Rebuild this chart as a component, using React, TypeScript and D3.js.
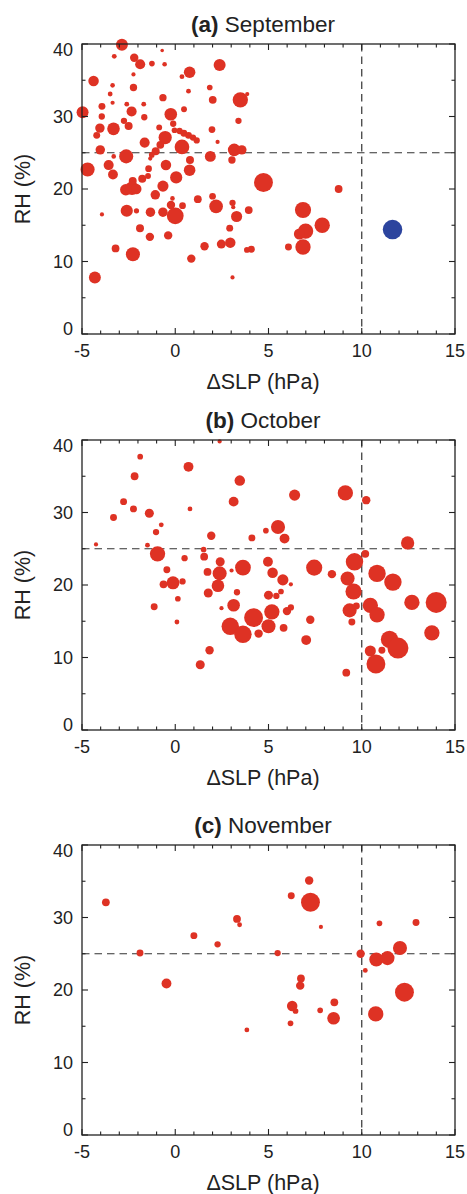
import React from 'react';
import * as d3 from 'd3';

// axis ticks
const xTicks = [-5, 0, 5, 10, 15];
const yTicks = [0, 10, 20, 30, 40];
const panelLetters = ['(a)', '(b)', '(c)'];
const panelMonths = ['September', 'October', 'November'];

// (a) September : dSLP (hPa), RH (%), bubble magnitude
const sepSLP = [
  -2.86, -3.27, -2.2, -1.88, -1.25, -0.7, -0.57, 0.77, 0.36, 2.38,
  -4.38, -3.36, -2.24, -2.24, -3.49, -3.36, -2.6, -1.69, -0.66, 0.71,
  1.85, 2.01, 3.49, 3.86, -3.93, -4.97, -2.34, -1.66, -3.94, -0.24,
  0.47, 3.39, -2.75, -2.5, -4.04, -3.31, -4.21, -0.86, -0.11, -0.54,
  -0.04, 0.23, 0.46, 0.71, 0.95, 1.15, 1.97, 2.27, -1.64, 0.36,
  -0.8, -1.05, -1.26, -4.02, -2.63, -3.3, -1.34, 0.79, 1.88, 3.16,
  3.57, 3.04, -4.7, -3.57, -3.34, -1.43, -0.5, 0.77, 0.05, -1.77,
  -1.46, -2.28, -2.65, -2.32, -2.09, -0.66, -1.07, -0.15, 1.21, 2.0,
  -2.6, -2.08, -1.33, -0.66, -0.23, 0.0, 0.39, 2.19, 3.07, 3.11,
  3.29, 3.94, -3.93, -1.89, -1.36, -0.38, 2.92, 1.57, 2.47, 2.95,
  -3.2, -2.27, 0.86, 3.84, 4.08, -4.31, 3.07, 4.73, 8.76, 6.85,
  6.99, 6.66, 7.88, 6.85, 6.07,
];
const sepRH = [
  39.9, 38.3, 38.1, 37.2, 37.3, 39.1, 37.2, 36.1, 35.5, 37.1,
  34.9, 34.3, 35.8, 34.0, 33.1, 31.9, 31.7, 31.7, 32.6, 33.5,
  34.0, 32.3, 32.3, 33.1, 31.4, 30.6, 30.7, 29.9, 30.0, 30.3,
  31.0, 29.4, 29.4, 28.7, 28.4, 28.3, 27.4, 28.5, 29.0, 27.1,
  28.1, 28.0, 27.7, 27.4, 27.1, 26.7, 28.2, 26.5, 26.4, 25.8,
  26.1, 25.2, 24.7, 25.4, 24.5, 24.5, 24.2, 24.0, 24.5, 25.4,
  25.4, 24.0, 22.7, 23.3, 22.0, 22.8, 23.3, 22.6, 21.6, 21.4,
  21.8, 21.1, 19.9, 20.1, 20.0, 20.4, 19.2, 18.7, 18.6, 19.0,
  17.0, 17.0, 16.8, 16.8, 17.8, 16.3, 17.7, 17.6, 18.1, 17.5,
  16.2, 17.1, 16.5, 14.6, 13.4, 13.6, 14.6, 12.1, 12.4, 12.6,
  11.8, 11.0, 10.4, 11.6, 11.7, 7.8, 7.8, 20.9, 20.0, 17.1,
  14.2, 13.8, 15.0, 12.0, 12.0,
];
const sepMag = [
  5.7, 2.3, 4, 4.8, 2.7, 1.7, 2.2, 5.5, 2.3, 5.7,
  5, 2.2, 2, 3.5, 2.3, 2, 2.3, 2.3, 3.5, 2.3,
  2.7, 3.7, 7.3, 2, 3.3, 5.7, 4.8, 3, 3, 6,
  2.8, 3, 3, 3.8, 4.5, 6, 3.3, 2.8, 3, 6.3,
  2.7, 3, 3.3, 3.3, 3, 3, 3.2, 2, 4.8, 7,
  3.7, 3.8, 2.7, 4.5, 6.7, 2.2, 2, 3.8, 5.2, 6,
  4.5, 3.5, 6.7, 4.8, 4.7, 3.2, 5, 5.5, 5.8, 3.8,
  2.8, 3.8, 5.5, 6.5, 5, 5.3, 4.5, 2.2, 3.7, 3.2,
  5.8, 2.5, 4.5, 4.5, 4, 8, 3.2, 6.5, 3, 2,
  5.3, 3.7, 2, 3.8, 4, 4, 3.3, 4, 4.3, 5,
  3.7, 6.7, 4, 2.7, 3.3, 5.7, 2, 9, 3.7, 7.7,
  7.3, 5.3, 7.3, 7.3, 3.3,
];
// the one highlighted (blue) case in September
const sepHiSLP = [11.65];
const sepHiRH = [14.4];
const sepHiMag = [9.3];

// (b) October
const octSLP = [
  2.38, -1.88, 0.71, -2.18, 3.46, -2.77, -2.24, 0.79, 3.13, -3.31,
  -1.39, -0.75, -1.03, 1.93, 4.11, -4.25, -1.49, -0.95, 1.52, 1.55,
  0.5, 2.41, 3.63, 3.02, -0.45, 1.73, 2.38, -0.12, -0.63, 0.39,
  2.29, 1.77, 3.31, -1.13, 0.14, 0.09, 2.48, 3.13, 2.95, 3.63,
  4.2, 4.47, 1.84, 1.34, 6.4, 9.12, 10.24, 5.51, 4.86, 5.86,
  12.46, 10.19, 9.61, 4.97, 5.22, 5.77, 6.2, 7.45, 8.4, 9.24,
  10.82, 11.67, 9.56, 5.0, 5.42, 5.67, 13.99, 12.69, 10.46, 10.82,
  9.35, 9.71, 5.99, 6.2, 5.18, 5.0, 5.81, 7.24, 7.02, 9.47,
  11.49, 11.94, 13.76, 10.46, 11.08, 10.76, 9.17,
];
const octRH = [
  39.8, 37.7, 36.3, 35.0, 34.4, 31.5, 30.5, 30.5, 31.5, 29.3,
  29.9, 28.3, 27.3, 26.8, 26.5, 25.6, 25.5, 24.3, 24.9, 23.9,
  23.7, 23.2, 22.4, 22.0, 22.1, 21.8, 21.6, 20.3, 20.1, 20.5,
  19.9, 18.9, 19.0, 17.0, 18.1, 14.9, 16.8, 17.2, 14.3, 13.2,
  15.5, 13.3, 11.0, 9.0, 32.4, 32.7, 31.7, 28.0, 27.5, 26.4,
  25.8, 24.3, 23.2, 23.2, 21.7, 20.7, 20.1, 22.4, 21.5, 20.9,
  21.6, 20.4, 19.1, 18.6, 18.5, 19.1, 17.6, 17.6, 17.2, 15.9,
  16.5, 17.1, 16.4, 16.9, 16.3, 14.3, 14.1, 15.2, 12.4, 14.9,
  12.5, 11.3, 13.4, 10.9, 11.0, 9.1, 7.9,
];
const octMag = [
  2, 2.7, 4.7, 3.7, 5, 3.3, 3.3, 2.3, 4.7, 3.3,
  4.3, 2.3, 3, 4, 3.3, 2, 2.3, 7.3, 2.7, 3.7,
  3, 4.3, 7.5, 2, 3.3, 3.7, 6.7, 6.2, 3.7, 3,
  6, 4.3, 3, 3.3, 2.7, 2.3, 2, 6, 8.3, 8.3,
  9, 4, 4, 4.3, 5.3, 7.3, 4, 6.7, 2.7, 4.7,
  6.3, 3.7, 8.3, 4.7, 5, 5.3, 2, 7.7, 4, 6.7,
  8.3, 8.3, 7.7, 4.3, 3, 2.7, 10, 7.3, 7.3, 7.3,
  6.7, 3.3, 4, 3, 7.3, 6.7, 3.7, 4, 4.7, 3.3,
  8.3, 10, 7.3, 5.3, 3.3, 9, 3.7,
];

// (c) November
const novSLP = [
  -3.72, -1.89, -0.47, 1.0, 2.27, 3.31, 3.45, 3.84, 7.18, 6.22,
  7.25, 7.81, 10.95, 12.91, 5.49, 9.94, 10.78, 11.38, 12.05, 10.19,
  6.74, 6.7, 12.29, 6.27, 6.45, 8.53, 7.77, 8.49, 10.75, 6.18,
];
const novRH = [
  32.1, 25.1, 20.9, 27.5, 26.3, 29.8, 29.0, 14.5, 35.1, 33.0,
  32.1, 28.7, 29.2, 29.3, 25.1, 25.0, 24.2, 24.4, 25.8, 22.7,
  21.6, 20.6, 19.7, 17.8, 17.1, 18.3, 17.2, 16.1, 16.7, 15.4,
];
const novMag = [
  3.7, 3.3, 4.7, 3.3, 3, 3.7, 2.3, 2.3, 4, 3.3,
  9, 2, 2.7, 3.3, 3, 4, 6.7, 6.7, 6.7, 2.3,
  3.7, 4, 9, 5, 2.7, 3.7, 2.7, 6, 7.3, 2.7,
];

const W = 467;
const H = 1194;
const left = 82;
const right = 455;
const plotH = 290;
const panelTops = [44, 440, 845];
const font = '"Liberation Sans", Arial, Helvetica, sans-serif';
const red = '#de3224';
const blue = '#2c449e';
const ink = '#222';

const x = d3.scaleLinear().domain([-5, 15]).range([left, right]);
const r = d3.scaleLinear().domain([0, 10]).range([0, 10.5]);

type PanelProps = {
  top: number;
  letter: string;
  month: string;
  xs: number[];
  ys: number[];
  ms: number[];
  hx?: number[];
  hy?: number[];
  hm?: number[];
};

function Panel({ top, letter, month, xs, ys, ms, hx = [], hy = [], hm = [] }: PanelProps) {
  const bottom = top + plotH;
  const y = d3.scaleLinear().domain([0, 40]).range([bottom, top]);
  const minorX = d3.range(-5, 15.01, 1);
  const minorY = d3.range(0, 40.01, 5);
  const cx = 263;

  return (
    <g>
      <text x={cx} y={top - 12} textAnchor="middle" fontSize={22.5} fill={ink}>
        <tspan fontWeight="bold">{letter}</tspan>
        <tspan> {month}</tspan>
      </text>

      {/* reference lines */}
      <line x1={left} x2={right} y1={y(25)} y2={y(25)} stroke="#333" strokeWidth={1.2} strokeDasharray="7.5,5" />
      <line x1={x(10)} x2={x(10)} y1={top} y2={bottom} stroke="#333" strokeWidth={1.2} strokeDasharray="7.5,5" />

      {xs.map((v, i) => (
        <circle key={i} cx={x(v)} cy={y(ys[i])} r={r(ms[i])} fill={red} />
      ))}
      {hx.map((v, i) => (
        <circle key={'h' + i} cx={x(v)} cy={y(hy[i])} r={r(hm[i])} fill={blue} />
      ))}

      {/* frame + inward ticks */}
      <rect x={left} y={top} width={right - left} height={plotH} fill="none" stroke={ink} strokeWidth={1.3} />
      {minorX.map((t) => {
        const len = t % 5 === 0 ? 6 : 3.5;
        return (
          <g key={'xt' + t} stroke={ink} strokeWidth={1.1}>
            <line x1={x(t)} x2={x(t)} y1={bottom} y2={bottom - len} />
            <line x1={x(t)} x2={x(t)} y1={top} y2={top + len} />
          </g>
        );
      })}
      {minorY.map((t) => {
        const len = t % 10 === 0 ? 6 : 3.5;
        return (
          <g key={'yt' + t} stroke={ink} strokeWidth={1.1}>
            <line x1={left} x2={left + len} y1={y(t)} y2={y(t)} />
            <line x1={right} x2={right - len} y1={y(t)} y2={y(t)} />
          </g>
        );
      })}

      {xTicks.map((t) => (
        <text key={'xl' + t} x={x(t)} y={bottom + 23} textAnchor="middle" fontSize={18} fill={ink}>
          {t}
        </text>
      ))}
      {yTicks.map((t) => {
        const cy = Math.min(Math.max(y(t), top + 6), bottom - 5);
        return (
          <text key={'yl' + t} x={left - 9} y={cy} dy="0.35em" textAnchor="end" fontSize={18} fill={ink}>
            {t}
          </text>
        );
      })}

      <text x={cx} y={bottom + 55} textAnchor="middle" fontSize={21.5} fill={ink}>
        ΔSLP (hPa)
      </text>
      <text
        transform={`translate(22,${(top + bottom) / 2}) rotate(-90)`}
        textAnchor="middle"
        dy="0.35em"
        fontSize={21.5}
        fill={ink}
      >
        RH (%)
      </text>
    </g>
  );
}

export default function App() {
  const sets = [
    { xs: sepSLP, ys: sepRH, ms: sepMag, hx: sepHiSLP, hy: sepHiRH, hm: sepHiMag },
    { xs: octSLP, ys: octRH, ms: octMag },
    { xs: novSLP, ys: novRH, ms: novMag },
  ];
  return (
    <svg
      width={W}
      height={H}
      style={{ position: 'absolute', left: 0, top: 0, background: '#fff', fontFamily: font }}
    >
      {sets.map((s, i) => (
        <Panel key={i} top={panelTops[i]} letter={panelLetters[i]} month={panelMonths[i]} {...s} />
      ))}
    </svg>
  );
}
